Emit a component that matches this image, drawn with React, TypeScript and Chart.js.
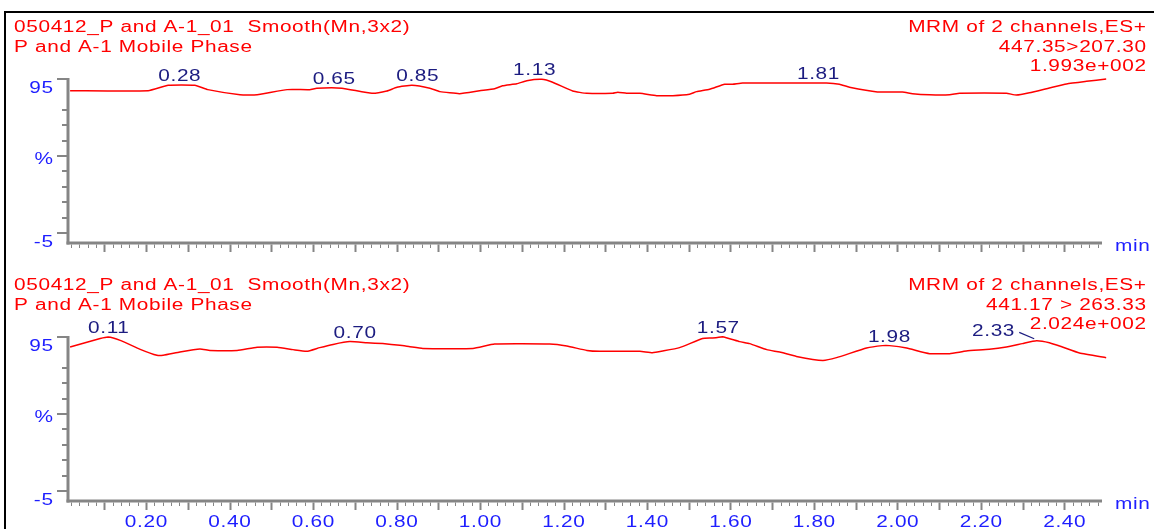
import React, { useEffect, useRef } from "react";
import { Chart, registerables } from "chart.js";

Chart.register(...registerables);

// ---------- data ----------
const topTimes = [0.018, 0.205, 0.253, 0.317, 0.348, 0.425, 0.466, 0.538, 0.592, 0.609, 0.669, 0.741, 0.777, 0.801, 0.837, 0.88, 0.904, 0.951, 0.999, 1.035, 1.054, 1.088, 1.112, 1.148, 1.174, 1.222, 1.256, 1.318, 1.33, 1.351, 1.383, 1.423, 1.462, 1.502, 1.519, 1.55, 1.586, 1.605, 1.629, 1.718, 1.83, 1.861, 1.885, 1.952, 2.012, 2.036, 2.077, 2.125, 2.149, 2.261, 2.285, 2.316, 2.364, 2.405, 2.453, 2.5];
const topValues = [87.4, 87.4, 90.9, 90.9, 88.1, 84.8, 84.8, 88.1, 88.1, 89.0, 89.0, 85.7, 87.2, 89.6, 90.9, 89.0, 86.8, 85.5, 87.4, 88.7, 90.6, 91.9, 93.9, 94.8, 92.9, 87.2, 85.7, 85.7, 86.4, 85.7, 85.7, 84.2, 84.2, 85.1, 86.8, 88.3, 91.6, 91.6, 92.4, 92.4, 92.4, 91.6, 89.6, 86.6, 86.6, 85.5, 84.8, 84.8, 85.7, 85.7, 84.6, 86.1, 89.2, 91.8, 93.5, 95.0];

const bottomTimes = [0.018, 0.09, 0.109, 0.138, 0.186, 0.226, 0.241, 0.281, 0.329, 0.353, 0.418, 0.466, 0.514, 0.552, 0.585, 0.616, 0.648, 0.688, 0.729, 0.767, 0.808, 0.832, 0.863, 0.983, 1.035, 1.167, 1.208, 1.256, 1.287, 1.383, 1.413, 1.438, 1.478, 1.533, 1.557, 1.581, 1.622, 1.646, 1.687, 1.718, 1.758, 1.821, 1.854, 1.926, 1.964, 1.981, 2.022, 2.077, 2.125, 2.165, 2.22, 2.261, 2.299, 2.333, 2.364, 2.395, 2.436, 2.5];
const bottomValues = [88.5, 94, 95, 92.8, 87, 83.1, 83.1, 85.2, 87.2, 86.3, 86.3, 88.3, 88.3, 86.8, 85.7, 88.1, 90.2, 92, 91.3, 90.7, 89.6, 88.7, 87.6, 87.6, 90.4, 90.4, 89.1, 86.3, 85.7, 85.7, 84.8, 85.9, 88.1, 94, 94.4, 95.2, 92, 90.7, 86.8, 85.2, 82.4, 79.8, 81.6, 87.8, 89.4, 89.4, 87.8, 84.2, 84.2, 85.9, 87, 88.5, 90.7, 92.6, 91.3, 88.5, 84.6, 81.6];

const topPeakTimes = [0.28, 0.65, 0.85, 1.13, 1.81];
const topPeakValues = [90.9, 89.0, 90.9, 94.8, 92.4];
const topPeakLabels = ["0.28", "0.65", "0.85", "1.13", "1.81"];

const bottomPeakTimes = [0.11, 0.7, 1.57, 1.98, 2.33];
const bottomPeakValues = [95, 92, 95.2, 89.4, 92.6];
const bottomPeakLabels = ["0.11", "0.70", "1.57", "1.98", "2.33"];

const headerLeft = ["050412_P and A-1_01  Smooth(Mn,3x2)", "P and A-1 Mobile Phase"];
const topHeaderRight = ["MRM of 2 channels,ES+", "447.35>207.30", "1.993e+002"];
const bottomHeaderRight = ["MRM of 2 channels,ES+", "441.17 > 263.33", "2.024e+002"];

const xTickValues = [0.2, 0.4, 0.6, 0.8, 1.0, 1.2, 1.4, 1.6, 1.8, 2.0, 2.2, 2.4];
const xTickLabels = ["0.20", "0.40", "0.60", "0.80", "1.00", "1.20", "1.40", "1.60", "1.80", "2.00", "2.20", "2.40"];
const yTickValues = [95, 45, -5];
const yTickLabels = ["95", "%", "-5"];
const yMinorValues = [75, 65, 55, 35, 25, 15, 5];
const xUnit = "min";

// ---------- styles ----------
const FONT = '16px "Liberation Sans", Arial, sans-serif';
const SX = 1.3; // horizontal stretch of the instrument font
const LS = 0.5;
const RED = "#ff0000";
const NAVY = "#1c1c80";
const BLUE = "#1e1eff";
const GRAY = "#858585";

function txt(ctx: CanvasRenderingContext2D, s: string, x: number, y: number, align: CanvasTextAlign, color: string) {
  ctx.save();
  ctx.font = FONT;
  (ctx as any).letterSpacing = LS + "px";
  ctx.fillStyle = color;
  ctx.textAlign = align;
  ctx.textBaseline = "alphabetic";
  let dx = 0;
  if (align === "right") dx = LS * SX;
  else if (align === "center") dx = (LS * SX) / 2;
  ctx.translate(x + dx, y);
  ctx.scale(SX, 1);
  ctx.fillText(s, 0, 0);
  ctx.restore();
}

type PanelProps = {
  times: number[];
  values: number[];
  peakTimes: number[];
  peakValues: number[];
  peakLabels: string[];
  right: string[];
  showXLabels: boolean;
  top: number;
  height: number;
  shiftLastLabel: boolean;
};

function Panel(p: PanelProps) {
  const ref = useRef<HTMLCanvasElement | null>(null);
  useEffect(() => {
    if (!ref.current) return;
    const decor = {
      id: "msDecor",
      afterDraw(chart: any) {
        const ctx: CanvasRenderingContext2D = chart.ctx;
        const xs = chart.scales.x;
        const ys = chart.scales.y;
        const area = chart.chartArea;
        const left = area.left;
        const right = area.right;
        const axisY = ys.getPixelForValue(-5) + 10;

        // headers
        txt(ctx, headerLeft[0], 14, 32, "left", RED);
        txt(ctx, headerLeft[1], 14, 52, "left", RED);
        txt(ctx, p.right[0], 1146, 32, "right", RED);
        txt(ctx, p.right[1], 1146, 52, "right", RED);
        txt(ctx, p.right[2], 1146, 71, "right", RED);

        ctx.save();
        ctx.strokeStyle = GRAY;
        ctx.lineCap = "butt";
        // y axis line
        ctx.lineWidth = 3;
        ctx.beginPath();
        ctx.moveTo(left, ys.getPixelForValue(95) - 1);
        ctx.lineTo(left, axisY + 1.5);
        ctx.stroke();
        // x axis line
        ctx.beginPath();
        ctx.moveTo(left - 1.5, axisY);
        ctx.lineTo(right, axisY);
        ctx.stroke();
        // y ticks
        ctx.lineWidth = 2;
        yTickValues.forEach((v) => {
          const y = Math.round(ys.getPixelForValue(v));
          ctx.beginPath();
          ctx.moveTo(left - 11, y);
          ctx.lineTo(left, y);
          ctx.stroke();
        });
        yMinorValues.forEach((v) => {
          const y = Math.round(ys.getPixelForValue(v));
          ctx.beginPath();
          ctx.moveTo(left - 6, y);
          ctx.lineTo(left, y);
          ctx.stroke();
        });
        // x ticks every 0.02
        for (let i = 1; i * 0.02 < 2.49; i++) {
          const t = i * 0.02;
          const x = Math.round(xs.getPixelForValue(t)) + 0.5;
          const major = i % 5 === 0;
          ctx.lineWidth = major ? 2 : 1;
          ctx.beginPath();
          ctx.moveTo(x, axisY + 1.5);
          ctx.lineTo(x, axisY + (major ? 9 : 5));
          ctx.stroke();
        }
        ctx.restore();

        // y labels
        yTickValues.forEach((v, i) => {
          const y = ys.getPixelForValue(v);
          const off = yTickLabels[i] === "%" ? 8 : 14;
          txt(ctx, yTickLabels[i], 53, y + off, "right", BLUE);
        });
        // x labels
        if (p.showXLabels) {
          xTickValues.forEach((v, i) => {
            txt(ctx, xTickLabels[i], xs.getPixelForValue(v), axisY + 26, "center", BLUE);
          });
        }
        txt(ctx, xUnit, right + 13, axisY + 8, "left", BLUE);

        // peak labels
        p.peakTimes.forEach((t, i) => {
          const px = xs.getPixelForValue(t);
          const py = ys.getPixelForValue(p.peakValues[i]);
          if (p.shiftLastLabel && i === p.peakTimes.length - 1) {
            const lx = px - 42;
            const by = py - 4.3;
            txt(ctx, p.peakLabels[i], lx, by, "center", NAVY);
            ctx.save();
            ctx.strokeStyle = NAVY;
            ctx.lineWidth = 1.2;
            ctx.beginPath();
            ctx.moveTo(lx + 26, by - 4);
            ctx.lineTo(px - 1, py - 2);
            ctx.stroke();
            ctx.restore();
          } else {
            txt(ctx, p.peakLabels[i], px, py - 4, "center", NAVY);
          }
        });
      },
    };

    const chart = new Chart(ref.current, {
      type: "line",
      data: {
        datasets: [
          {
            data: p.times.map((t, i) => ({ x: t, y: p.values[i] })),
            borderColor: RED,
            borderWidth: 1.5,
            pointRadius: 0,
            tension: 0.15,
            fill: false,
            clip: false as any,
          },
        ],
      },
      options: {
        animation: false,
        responsive: false,
        devicePixelRatio: 1,
        layout: { padding: { left: 68, right: 52, top: 79, bottom: p.height - 233 } },
        scales: {
          x: { type: "linear", min: 0.013, max: 2.49, display: false },
          y: { type: "linear", min: -5, max: 95, display: false },
        },
        plugins: { legend: { display: false }, tooltip: { enabled: false }, title: { display: false } },
        events: [],
      },
      plugins: [decor],
    });
    return () => chart.destroy();
  }, []);
  return (
    <canvas
      ref={ref}
      width={1154}
      height={p.height}
      style={{ position: "absolute", left: 0, top: p.top, width: 1154, height: p.height }}
    />
  );
}

export default function App() {
  return (
    <div
      style={{
        position: "fixed",
        left: 0,
        top: 0,
        width: 1154,
        height: 529,
        background: "#ffffff",
        overflow: "hidden",
      }}
    >
      <div
        style={{
          position: "absolute",
          left: 4,
          top: 11,
          width: 1300,
          height: 700,
          borderTop: "2px solid #000",
          borderLeft: "2px solid #000",
        }}
      />
      <Panel
        times={topTimes}
        values={topValues}
        peakTimes={topPeakTimes}
        peakValues={topPeakValues}
        peakLabels={topPeakLabels}
        right={topHeaderRight}
        showXLabels={false}
        top={0}
        height={258}
        shiftLastLabel={false}
      />
      <Panel
        times={bottomTimes}
        values={bottomValues}
        peakTimes={bottomPeakTimes}
        peakValues={bottomPeakValues}
        peakLabels={bottomPeakLabels}
        right={bottomHeaderRight}
        showXLabels={true}
        top={258}
        height={271}
        shiftLastLabel={true}
      />
    </div>
  );
}
